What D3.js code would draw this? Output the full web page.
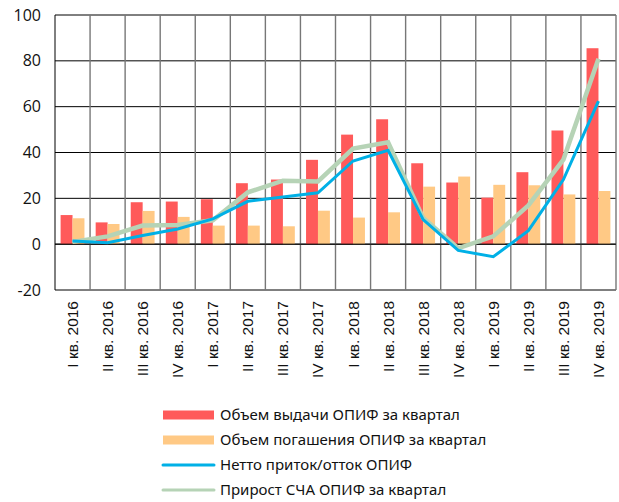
<!DOCTYPE html>
<html>
<head>
<meta charset="utf-8">
<script src="https://cdn.jsdelivr.net/npm/d3@7"></script>
<style>
  body { margin: 0; background: #fff; }
  svg { display: block; }
</style>
</head>
<body>
<svg id="chart" width="619" height="502"></svg>
<script>
// quarters on the x axis
var quarters = ["I кв. 2016", "II кв. 2016", "III кв. 2016", "IV кв. 2016",
  "I кв. 2017", "II кв. 2017", "III кв. 2017", "IV кв. 2017",
  "I кв. 2018", "II кв. 2018", "III кв. 2018", "IV кв. 2018",
  "I кв. 2019", "II кв. 2019", "III кв. 2019", "IV кв. 2019"];

// bars
var issued = [12.7, 9.5, 18.3, 18.6, 19.6, 26.6, 28.2, 36.8, 47.8, 54.5, 35.3, 26.9, 20.3, 31.4, 49.6, 85.5];
var redeemed = [11.3, 8.8, 14.5, 11.9, 8.1, 8.1, 7.8, 14.6, 11.6, 13.9, 25.1, 29.5, 25.9, 25.7, 21.7, 23.2];

// lines
var netFlow = [1.4, 0.6, 3.8, 6.6, 11.0, 18.7, 20.6, 22.4, 36.3, 41.0, 10.7, -2.7, -5.5, 5.9, 28.2, 62.4];
var navGrowth = [1.0, 3.4, 8.1, 8.4, 10.4, 22.6, 27.7, 27.4, 41.7, 44.5, 11.4, -1.8, 3.4, 16.9, 36.9, 80.9];

var yTicks = [-20, 0, 20, 40, 60, 80, 100];

var legendNames = ["Объем выдачи ОПИФ за квартал", "Объем погашения ОПИФ за квартал",
  "Нетто приток/отток ОПИФ", "Прирост СЧА ОПИФ за квартал"];
var colors = ["#ff5a5a", "#ffc985", "#00b0e6", "#b6d3b6"];

var plotLeft = 55, plotRight = 616, plotTop = 15, plotBottom = 290;

var svg = d3.select("#chart");

var x = d3.scaleBand()
  .domain(quarters)
  .range([plotLeft, plotRight]);

var y = d3.scaleLinear()
  .domain([-20, 100])
  .range([plotBottom, plotTop]);

var inner = x.bandwidth() * 0.34;
var sub = d3.scaleBand()
  .domain([0, 1])
  .range([(x.bandwidth() - 2 * inner) / 2, (x.bandwidth() + 2 * inner) / 2]);

// horizontal grid
svg.append("g")
  .selectAll("line")
  .data(yTicks)
  .enter()
  .append("line")
  .attr("x1", plotLeft)
  .attr("x2", plotRight)
  .attr("y1", function(d) { return y(d); })
  .attr("y2", function(d) { return y(d); })
  .style("stroke", "#000")
  .style("stroke-width", 1);

// vertical grid at band edges
var edges = quarters.map(function(q) { return x(q); }).concat([plotRight]);
svg.append("g")
  .selectAll("line")
  .data(edges)
  .enter()
  .append("line")
  .attr("x1", function(d) { return d; })
  .attr("x2", function(d) { return d; })
  .attr("y1", plotTop)
  .attr("y2", plotBottom)
  .style("stroke", function(d, i) { return (i === 0) ? "#000" : "#777"; })
  .style("stroke-width", function(d, i) { return (i === 0) ? 1 : 1.4; });

// y tick labels
svg.append("g")
  .selectAll("text")
  .data(yTicks)
  .enter()
  .append("text")
  .attr("x", 41)
  .attr("y", function(d) { return y(d); })
  .attr("dy", "0.35em")
  .attr("text-anchor", "end")
  .style("font-family", "'Open Sans', sans-serif")
  .style("font-size", "16px")
  .style("fill", "#111")
  .text(function(d) { return d; });

// bars
var series = [issued, redeemed];
series.forEach(function(vals, s) {
  svg.append("g")
    .selectAll("rect")
    .data(vals)
    .enter()
    .append("rect")
    .attr("x", function(d, i) { return x(quarters[i]) + sub(s); })
    .attr("width", sub.bandwidth())
    .attr("y", function(d) { return y(Math.max(0, d)); })
    .attr("height", function(d) { return Math.abs(y(d) - y(0)); })
    .attr("fill", colors[s]);
});

// zero line over bars
svg.append("line")
  .attr("x1", plotLeft).attr("x2", plotRight)
  .attr("y1", y(0)).attr("y2", y(0))
  .style("stroke", "#000")
  .style("stroke-width", 1);

// lines
var line = d3.line()
  .x(function(d, i) { return x(quarters[i]) + x.bandwidth() / 2; })
  .y(function(d) { return y(d); });

svg.append("path")
  .datum(navGrowth)
  .attr("d", line)
  .attr("fill", "none")
  .style("stroke", colors[3])
  .style("stroke-width", 4.5);

svg.append("path")
  .datum(netFlow)
  .attr("d", line)
  .attr("fill", "none")
  .style("stroke", colors[2])
  .style("stroke-width", 3);

// x labels, rotated
svg.append("g")
  .selectAll("text")
  .data(quarters)
  .enter()
  .append("text")
  .attr("transform", function(d) {
    return "translate(" + (x(d) + x.bandwidth() / 2 + 5.5) + "," + 301 + ") rotate(-90)";
  })
  .attr("text-anchor", "end")
  .style("font-family", "'Liberation Sans', Arial, sans-serif")
  .style("font-size", "15.5px")
  .style("fill", "#111")
  .text(function(d) { return d; });

// legend
var legend = svg.append("g")
  .selectAll("g")
  .data(legendNames)
  .enter()
  .append("g")
  .attr("transform", function(d, i) { return "translate(163," + (415 + i * 25) + ")"; });

legend.each(function(d, i) {
  var g = d3.select(this);
  if (i < 2) {
    g.append("rect")
      .attr("x", 0).attr("y", -4.5)
      .attr("width", 51).attr("height", 9)
      .attr("fill", colors[i]);
  } else {
    g.append("line")
      .attr("x1", 0).attr("x2", 51)
      .attr("y1", 0).attr("y2", 0)
      .style("stroke", colors[i])
      .style("stroke-width", 3)
      .style("stroke-linecap", "round");
  }
  g.append("text")
    .attr("x", 57)
    .attr("y", 0)
    .attr("dy", "0.35em")
    .style("font-family", "'Noto Sans', sans-serif")
    .style("font-size", "15px")
    .style("fill", "#111")
    .text(d);
});
</script>
</body>
</html>
